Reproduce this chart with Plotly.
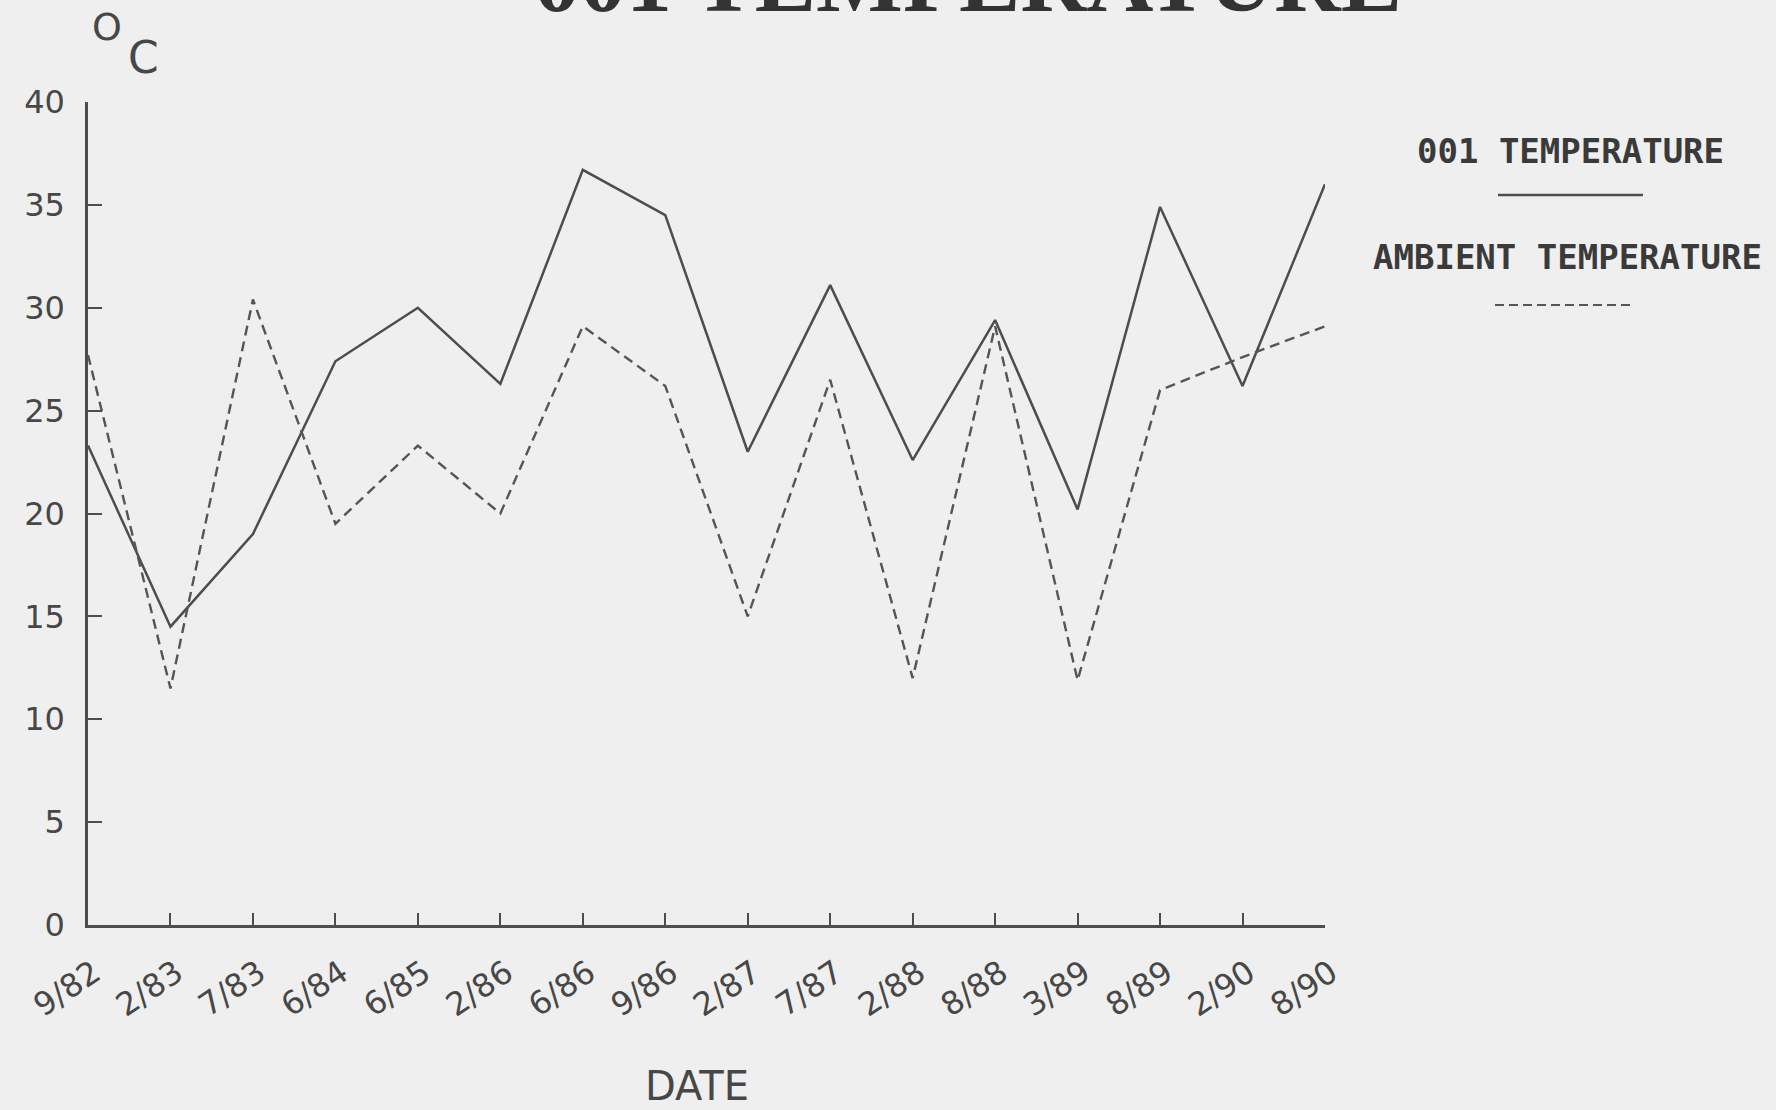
import plotly.graph_objects as go

# Sampling dates and measured temperatures (degrees C)
dates = ["9/82", "2/83", "7/83", "6/84", "6/85", "2/86", "6/86", "9/86",
         "2/87", "7/87", "2/88", "8/88", "3/89", "8/89", "2/90", "8/90"]
temp_001 = [23.3, 14.5, 19.0, 27.4, 30.0, 26.3, 36.7, 34.5,
            23.0, 31.1, 22.6, 29.4, 20.2, 34.9, 26.2, 36.0]
temp_ambient = [27.7, 11.5, 30.4, 19.5, 23.3, 20.0, 29.1, 26.2,
                15.0, 26.5, 12.0, 29.1, 11.9, 26.0, 27.6, 29.1]
y_ticks = [0, 5, 10, 15, 20, 25, 30, 35, 40]

W, H = 1776, 1110
L, R, T, B = 88, 451, 102, 185
PW, PH = W - L - R, H - T - B

INK = "#474747"
LINE = "#4d4d4d"
BG = "#efefef"
TICK_FONT = dict(family="DejaVu Sans", size=32, color=INK)


def px(x):
    return (x - L) / PW


def py(y):
    return 1 - (y - T) / PH


x_idx = list(range(len(dates)))

fig = go.Figure()
fig.add_trace(go.Scatter(
    x=x_idx, y=temp_001, mode="lines", name="001 TEMPERATURE",
    line=dict(color=LINE, width=2.5), showlegend=False,
))
fig.add_trace(go.Scatter(
    x=x_idx, y=temp_ambient, mode="lines", name="AMBIENT TEMPERATURE",
    line=dict(color="#555555", width=2.4, dash="10px,6px"), showlegend=False,
))

annotations = [
    # title, mostly above the top edge of the page
    dict(text="<b>001 TEMPERATURE</b>", x=px(968), y=py(-20), xref="paper", yref="paper",
         xanchor="center", yanchor="middle", showarrow=False,
         font=dict(family="Liberation Serif", size=92, color="#333333")),
    # unit label
    dict(text="O", x=px(107), y=py(27), xref="paper", yref="paper",
         xanchor="center", yanchor="middle", showarrow=False,
         font=dict(family="DejaVu Sans", size=38, color=INK)),
    dict(text="C", x=px(143), y=py(58), xref="paper", yref="paper",
         xanchor="center", yanchor="middle", showarrow=False,
         font=dict(family="DejaVu Sans", size=44, color=INK)),
    # axis title
    dict(text="DATE", x=px(697), y=py(1086), xref="paper", yref="paper",
         xanchor="center", yanchor="middle", showarrow=False,
         font=dict(family="DejaVu Sans", size=40, color=INK)),
    # key
    dict(text="<b>001 TEMPERATURE</b>", x=px(1570), y=py(151), xref="paper", yref="paper",
         xanchor="center", yanchor="middle", showarrow=False,
         font=dict(family="DejaVu Sans Mono", size=34, color="#3a3a3a")),
    dict(text="<b>AMBIENT TEMPERATURE</b>", x=px(1567), y=py(257), xref="paper", yref="paper",
         xanchor="center", yanchor="middle", showarrow=False,
         font=dict(family="DejaVu Sans Mono", size=34, color="#3a3a3a")),
]

shapes = [
    dict(type="line", xref="paper", yref="paper", x0=px(1498), x1=px(1643),
         y0=py(195), y1=py(195), line=dict(color=LINE, width=2.4)),
    dict(type="line", xref="paper", yref="paper", x0=px(1495), x1=px(1633),
         y0=py(305), y1=py(305), line=dict(color="#555555", width=2.2, dash="9px,5px")),
]

fig.update_layout(
    width=W, height=H,
    margin=dict(l=L, r=R, t=T, b=B, autoexpand=False),
    paper_bgcolor=BG, plot_bgcolor=BG,
    annotations=annotations, shapes=shapes,
    xaxis=dict(
        range=[0, 15], tickvals=x_idx, ticktext=dates, tickangle=-34,
        showline=True, linecolor=LINE, linewidth=2.5,
        ticks="inside", ticklen=12, tickwidth=2.2, tickcolor=LINE,
        showgrid=False, zeroline=False, tickfont=TICK_FONT,
        ticklabelstandoff=14, ticklabelshift=6,
    ),
    yaxis=dict(
        range=[0, 40], tickvals=y_ticks,
        showline=True, linecolor=LINE, linewidth=2.5,
        ticks="inside", ticklen=14, tickwidth=2.2, tickcolor=LINE,
        showgrid=False, zeroline=False, tickfont=TICK_FONT,
        ticklabelstandoff=14,
    ),
)

fig.write_html("out.html")
